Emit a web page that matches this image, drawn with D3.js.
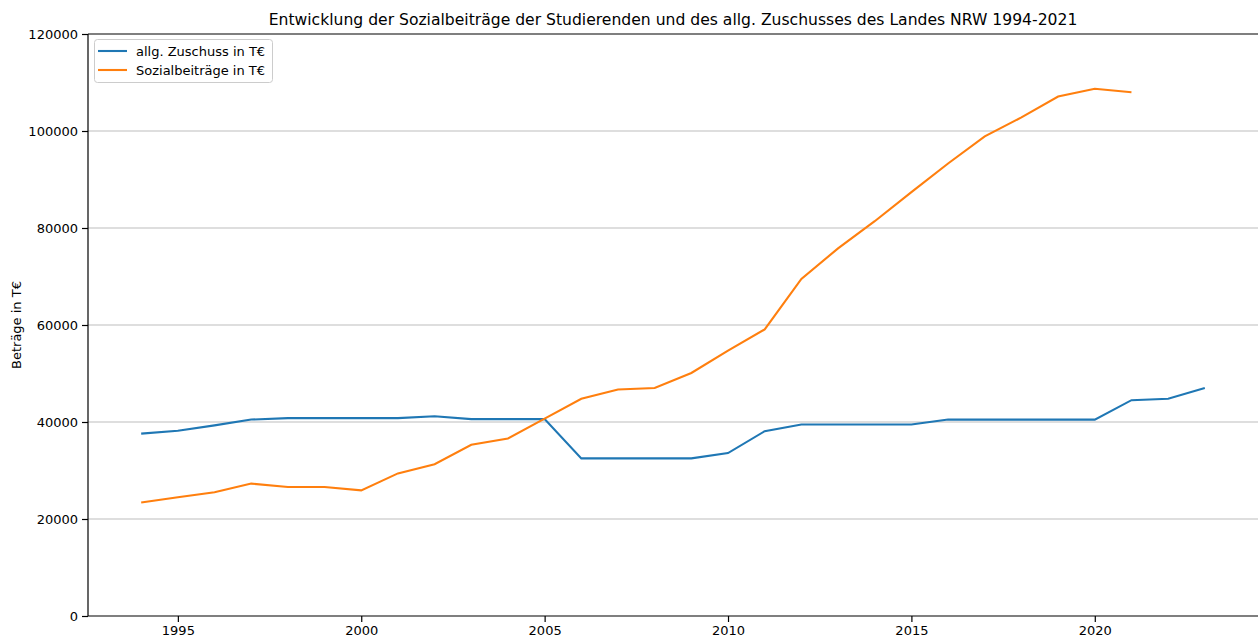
<!DOCTYPE html>
<html><head><meta charset="utf-8">
<script src="https://cdn.jsdelivr.net/npm/d3@7/dist/d3.min.js"></script>
<style>body{margin:0;background:#fff;} svg{display:block;font-family:"DejaVu Sans",sans-serif;}</style>
</head><body>
<script>
const zuschussYears = d3.range(1994, 2024);
const zuschuss = [37600,38200,39300,40500,40800,40800,40800,40800,41200,40600,40600,40600,32500,32500,32500,32500,33600,38100,39500,39500,39500,39500,40500,40500,40500,40500,40500,44500,44800,47000];
const sozialYears = d3.range(1994, 2022);
const sozial = [23400,24500,25500,27300,26600,26600,25900,29400,31300,35300,36600,40700,44800,46700,47000,50100,54700,59100,69500,75800,81400,87400,93300,98900,102800,107100,108700,108000];
const yTicks = [0,20000,40000,60000,80000,100000,120000];
const xTicks = [1995,2000,2005,2010,2015,2020];
const seriesNames = ["allg. Zuschuss in T€","Sozialbeiträge in T€"];
const colors = ["#1f77b4","#ff7f0e"];
const title = "Entwicklung der Sozialbeiträge der Studierenden und des allg. Zuschusses des Landes NRW 1994-2021";

const W=1258,H=637, L=88, R=1258, T=34, B=616;
const FS=13;
const svg=d3.select("body").append("svg").attr("width",W).attr("height",H);
const x=d3.scaleLinear().domain([1992.55,2024.45]).range([L,R]);
const y=d3.scaleLinear().domain([0,120000]).range([B,T]);

// grid
svg.append("g").selectAll("line").data(yTicks.slice(1,-1)).join("line")
  .attr("x1",L).attr("x2",R).attr("y1",d=>y(d)).attr("y2",d=>y(d))
  .attr("stroke","#d3d3d3").attr("stroke-width",1.5);

const line=d3.line().x(d=>x(d[0])).y(d=>y(d[1]));
svg.append("path").datum(zuschussYears.map((yr,i)=>[yr,zuschuss[i]]))
  .attr("d",line).attr("fill","none").attr("stroke",colors[0]).attr("stroke-width",2.1);
svg.append("path").datum(sozialYears.map((yr,i)=>[yr,sozial[i]]))
  .attr("d",line).attr("fill","none").attr("stroke",colors[1]).attr("stroke-width",2.1);

// axes
const ya=svg.append("g").attr("transform",`translate(${L},0)`)
  .call(d3.axisLeft(y).tickValues(yTicks).tickFormat(d3.format("d")).tickSize(6).tickPadding(4));
const xa=svg.append("g").attr("transform",`translate(0,${B})`)
  .call(d3.axisBottom(x).tickValues(xTicks).tickFormat(d3.format("d")).tickSize(6).tickPadding(4));
[ya,xa].forEach(a=>{
  a.selectAll("text").attr("font-size",FS).attr("fill","#000").attr("font-family","DejaVu Sans");
  a.selectAll("line").attr("stroke","#000").attr("stroke-width",1.2);
  a.select(".domain").remove();
});
// spines
svg.append("line").attr("x1",L).attr("x2",L).attr("y1",T).attr("y2",B).attr("stroke","#000").attr("stroke-width",1.2);
svg.append("line").attr("x1",L).attr("x2",R).attr("y1",B).attr("y2",B).attr("stroke","#000").attr("stroke-width",1.2);
svg.append("line").attr("x1",L).attr("x2",R).attr("y1",T).attr("y2",T).attr("stroke","#000").attr("stroke-width",1.2);

svg.append("text").attr("x",(L+R)/2).attr("y",25).attr("text-anchor","middle")
  .attr("font-size",15.6).text(title);
svg.append("text").attr("transform",`translate(21,${(T+B)/2}) rotate(-90)`)
  .attr("text-anchor","middle").attr("font-size",FS).text("Beträge in T€");

// legend
const lg=svg.append("g");
lg.append("rect").attr("x",94.5).attr("y",39.5).attr("width",178).attr("height",43).attr("rx",3)
  .attr("fill","#fff").attr("fill-opacity",0.8).attr("stroke","#ccc");
seriesNames.forEach((n,i)=>{
  const yy=51+i*19;
  lg.append("line").attr("x1",98).attr("x2",127).attr("y1",yy).attr("y2",yy).attr("stroke",colors[i]).attr("stroke-width",2.1);
  lg.append("text").attr("x",136).attr("y",yy+4.5).attr("font-size",FS).text(n);
});
</script>
</body></html>
